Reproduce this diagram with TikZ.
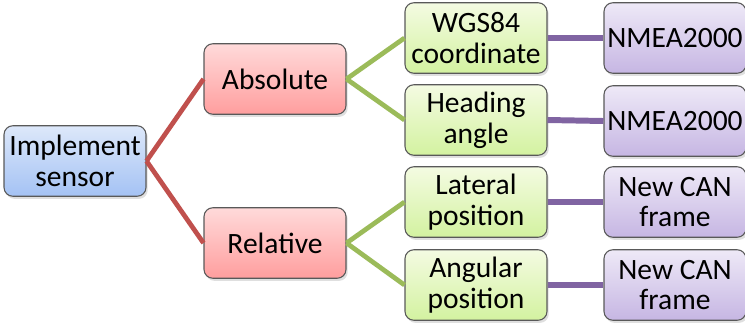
\documentclass[tikz,border=0pt]{standalone}
\usepackage{fontspec}
\setmainfont{Carlito}
\usetikzlibrary{shadows}

\definecolor{redline}{HTML}{C0504D}
\definecolor{greenline}{HTML}{9BBB59}
\definecolor{purpleline}{HTML}{8064A2}
\definecolor{bluetop}{HTML}{DDE8FA}
\definecolor{bluebot}{HTML}{A4C2F4}
\definecolor{redtop}{HTML}{FFDADA}
\definecolor{redbot}{HTML}{FF9E9E}
\definecolor{greentop}{HTML}{F4FBE2}
\definecolor{greenbot}{HTML}{D3F2A0}
\definecolor{purpletop}{HTML}{EEE9F7}
\definecolor{purplebot}{HTML}{C6B6E3}

\tikzset{
    box/.style={draw=black!65, rounded corners=5pt, line width=0.6pt,
        minimum width=2.84cm, minimum height=1.41cm, align=center, inner sep=1pt,
        font=\fontsize{16.8}{17.6}\selectfont,
        drop shadow={shadow xshift=1pt, shadow yshift=-1.5pt, opacity=0.25}},
    bluebox/.style={box, top color=bluetop, bottom color=bluebot},
    redbox/.style={box, top color=redtop, bottom color=redbot},
    greenbox/.style={box, top color=greentop, bottom color=greenbot},
    purplebox/.style={box, top color=purpletop, bottom color=purplebot},
    link/.style={line width=2.7pt}
}

\begin{document}
\begin{tikzpicture}[x=0.02cm, y=-0.02cm]
    \useasboundingbox (0,0) rectangle (745,322);

    \node[bluebox] (sensor) at (75,161) {Implement\\sensor};
    \node[redbox] (absolute) at (275,79) {Absolute};
    \node[redbox] (relative) at (275,243) {Relative};

    \node[greenbox] (wgs) at (476,38) {WGS84\\coordinate};
    \node[greenbox] (heading) at (476,120) {Heading\\angle};
    \node[greenbox] (lateral) at (476,202) {Lateral\\position};
    \node[greenbox] (angular) at (476,285) {Angular\\position};

    \node[purplebox] (nmeaA) at (675,38) {NMEA2000};
    \node[purplebox] (nmeaB) at (675,121) {NMEA2000};
    \node[purplebox] (canA) at (675,202) {New CAN\\frame};
    \node[purplebox] (canB) at (675,285) {New CAN\\frame};

    \foreach \b in {absolute,relative}
        \draw[link, redline] (sensor.east) -- (\b.west);

    \draw[link, greenline] (absolute.east) -- (wgs.west);
    \draw[link, greenline] (absolute.east) -- (heading.west);
    \draw[link, greenline] (relative.east) -- (lateral.west);
    \draw[link, greenline] (relative.east) -- (angular.west);

    \foreach \g/\p in {wgs/nmeaA, heading/nmeaB, lateral/canA, angular/canB}
        \draw[link, purpleline, line width=3.4pt] (\g.east) -- (\p.west);
\end{tikzpicture}
\end{document}
